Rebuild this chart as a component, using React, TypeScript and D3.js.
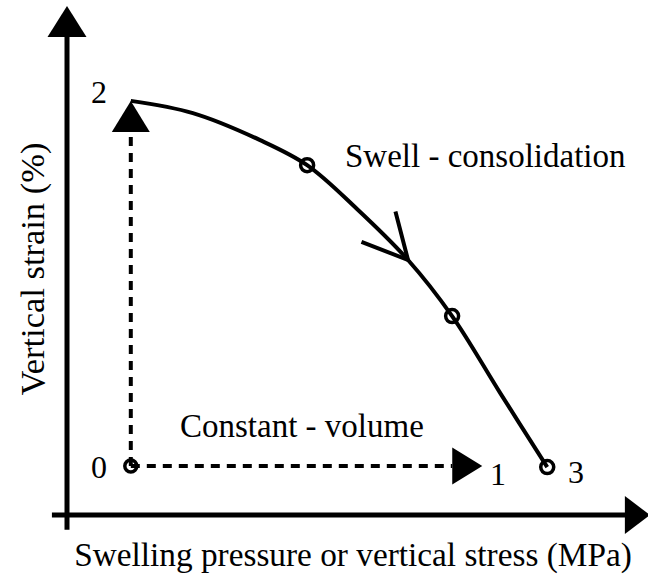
import React from "react";
import * as d3 from "d3";

// Schematic data (abstract units: x = stress, y = strain)
const curveX = [1.1, 2.17, 3.33, 4.14, 5.0, 5.88, 6.64, 7.47, 8.28];
const curveY = [8.12, 7.88, 7.35, 6.86, 6.0, 5.0, 3.9, 2.39, 0.94];
const markerX = [4.14, 6.64, 8.28];
const markerY = [6.86, 3.9, 0.94];
const startPoint = [1.1, 0.96];
const constVolEnd = [7.16, 0.96];
const swellEnd = [1.1, 8.12];
const arrowAt = [5.88, 5.0];
const pointLabels = ["0", "1", "2", "3"];
const xTitle = "Swelling pressure or vertical stress (MPa)";
const yTitle = "Vertical strain (%)";
const swellLabel = "Swell - consolidation";
const constLabel = "Constant - volume";

const W = 648;
const H = 576;
const FONT = "'Liberation Serif', 'Times New Roman', serif";

export default function App() {
  const x = d3.scaleLinear().domain([0, 10]).range([67, 647]);
  const y = d3.scaleLinear().domain([0, 10]).range([515, 5]);

  const pts: [number, number][] = curveX.map((v, i) => [x(v), y(curveY[i])]);
  const line = d3.line<[number, number]>().curve(d3.curveCatmullRom.alpha(0.5));
  const curvePath = line(pts) || "";

  const tri = (tipX: number, tipY: number, dx: number, dy: number, len: number, wid: number) => {
    const bx = tipX - dx * len;
    const by = tipY - dy * len;
    const px = -dy, py = dx;
    return `M${tipX},${tipY}L${bx + px * wid / 2},${by + py * wid / 2}L${bx - px * wid / 2},${by - py * wid / 2}Z`;
  };

  const vx = x(arrowAt[0]);
  const vy = y(arrowAt[1]);
  const ang = Math.atan2(y(3.9) - y(6.0), x(6.64) - x(5.0));
  const back = ang + Math.PI;
  const armLen = 50;
  const spread = (27 * Math.PI) / 180;
  const chevron = `M${vx + armLen * Math.cos(back - spread)},${vy + armLen * Math.sin(back - spread)}L${vx},${vy}L${vx + armLen * Math.cos(back + spread)},${vy + armLen * Math.sin(back + spread)}`;

  const sx = x(startPoint[0]);
  const sy = y(startPoint[1]);
  const hTipX = x(constVolEnd[0]);
  const vTipY = y(swellEnd[1]);

  const yAxisTop = y(9.98);
  const xAxisRight = x(10.05);

  return (
    <svg width={W} height={H} style={{ position: "absolute", left: 0, top: 0, background: "#fff" }}>
      <rect width={W} height={H} fill="#fff" />
      <line x1={x(0)} y1={y(-0.29)} x2={x(0)} y2={yAxisTop + 28} stroke="#000" strokeWidth={5} />
      <path d={tri(x(0), yAxisTop, 0, -1, 31, 39)} fill="#000" />
      <line x1={x(-0.26)} y1={y(0)} x2={xAxisRight - 22} y2={y(0)} stroke="#000" strokeWidth={5} />
      <path d={tri(xAxisRight, y(0), 1, 0, 25, 38)} fill="#000" />

      <line x1={sx} y1={sy} x2={hTipX - 30} y2={sy} stroke="#000" strokeWidth={4} strokeDasharray="9 7" />
      <path d={tri(hTipX, sy, 1, 0, 30, 37)} fill="#000" />
      <line x1={sx} y1={sy} x2={sx} y2={vTipY + 30} stroke="#000" strokeWidth={4} strokeDasharray="9 7" />
      <path d={tri(sx, vTipY, 0, -1, 31, 38)} fill="#000" />
      <circle cx={sx} cy={sy} r={6} fill="none" stroke="#000" strokeWidth={3.5} />

      <path d={curvePath} fill="none" stroke="#000" strokeWidth={4} />
      <path d={chevron} fill="none" stroke="#000" strokeWidth={4} strokeLinejoin="miter" />
      {markerX.map((mx, i) => (
        <circle key={i} cx={x(mx)} cy={y(markerY[i])} r={6.5} fill="none" stroke="#000" strokeWidth={3.5} />
      ))}

      <g fontFamily={FONT} fill="#000">
        <text x={99} y={478} fontSize={32} textAnchor="middle">{pointLabels[0]}</text>
        <text x={498} y={485} fontSize={32} textAnchor="middle">{pointLabels[1]}</text>
        <text x={99} y={103} fontSize={32} textAnchor="middle">{pointLabels[2]}</text>
        <text x={576} y={483} fontSize={32} textAnchor="middle">{pointLabels[3]}</text>
        <text x={345} y={167} fontSize={33}>{swellLabel}</text>
        <text x={180} y={437} fontSize={33}>{constLabel}</text>
        <text x={353} y={566} fontSize={33.3} textAnchor="middle">{xTitle}</text>
        <text transform="translate(44,269) rotate(-90)" fontSize={34.5} textAnchor="middle">{yTitle}</text>
      </g>
    </svg>
  );
}
